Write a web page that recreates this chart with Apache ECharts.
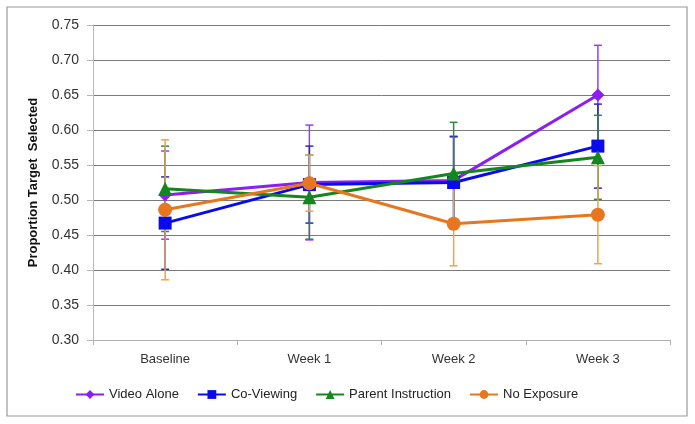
<!DOCTYPE html>
<html><head><meta charset="utf-8">
<script src="https://cdn.jsdelivr.net/npm/echarts@6/dist/echarts.min.js"></script>
<style>html,body{margin:0;padding:0;background:#fff}#c{width:695px;height:424px}</style>
</head><body><div id="c"></div>
<script>
const categories = ['Baseline', 'Week 1', 'Week 2', 'Week 3'];
const seriesNames = ['Video Alone', 'Co-Viewing', 'Parent Instruction', 'No Exposure'];
const videoAlone = [0.507, 0.525, 0.528, 0.650];
const videoAloneErr = [0.063, 0.082, 0.062, 0.071];
const coViewing = [0.467, 0.522, 0.525, 0.577];
const coViewingErr = [0.066, 0.055, 0.066, 0.060];
const parentInstruction = [0.516, 0.504, 0.538, 0.561];
const parentInstructionErr = [0.061, 0.060, 0.073, 0.060];
const noExposure = [0.486, 0.524, 0.466, 0.479];
const noExposureErr = [0.100, 0.040, 0.060, 0.070];
const yTicks = ['0.30','0.35','0.40','0.45','0.50','0.55','0.60','0.65','0.70','0.75'];

const colors = ['#8B1FF2', '#0A0AF0', '#14861E', '#E8761E'];
const errColors = ['#9B3BF5', '#2A2AB8', '#2E8B3A', '#F0A24A'];
const symbols = ['diamond', 'rect', 'triangle', 'circle'];
const symSizes = [13, 13, 14, 14];
const vals = [videoAlone, coViewing, parentInstruction, noExposure];
const errs = [videoAloneErr, coViewingErr, parentInstructionErr, noExposureErr];

const font = 'Liberation Sans, Arial, sans-serif';
const series = [];
vals.forEach((v, i) => {
  series.push({
    type: 'custom', name: seriesNames[i] + ' err', z: 2,
    data: v.map((y, k) => [k, y - errs[i][k], y + errs[i][k]]),
    renderItem: (params, api) => {
      const x = api.value(0);
      const lo = api.coord([x, api.value(1)]);
      const hi = api.coord([x, api.value(2)]);
      const w = 4;
      const st = { stroke: errColors[i], lineWidth: 1.5 };
      return { type: 'group', children: [
        { type: 'line', shape: { x1: lo[0], y1: lo[1], x2: hi[0], y2: hi[1] }, style: st },
        { type: 'line', shape: { x1: lo[0]-w, y1: lo[1], x2: lo[0]+w, y2: lo[1] }, style: st },
        { type: 'line', shape: { x1: hi[0]-w, y1: hi[1], x2: hi[0]+w, y2: hi[1] }, style: st }
      ]};
    },
    silent: true
  });
});
vals.forEach((v, i) => {
  series.push({
    type: 'line', name: seriesNames[i], data: v, z: 3 + i,
    symbol: symbols[i], symbolSize: symSizes[i],
    lineStyle: { color: colors[i], width: 3 },
    itemStyle: { color: colors[i] },
    animation: false
  });
});

const chart = echarts.init(document.getElementById('c'), null, { renderer: 'canvas' });
chart.setOption({
  animation: false,
  graphic: [{ type: 'rect', shape: { x: 7, y: 7, width: 680, height: 409 }, style: { fill: 'none', stroke: '#9a9a9a', lineWidth: 1.2 }, silent: true }],
  grid: { left: 93, right: 25, top: 25, bottom: 84 },
  legend: {
    data: seriesNames, bottom: 18, left: 70, itemWidth: 28, itemHeight: 11, itemGap: 18,
    textStyle: { fontFamily: font, fontSize: 13, color: '#222' }
  },
  xAxis: {
    type: 'category', data: categories, boundaryGap: true,
    axisLine: { lineStyle: { color: '#b0b0b0' } },
    axisTick: { show: true, length: 5, lineStyle: { color: '#b0b0b0' } },
    axisLabel: { fontFamily: font, fontSize: 13, color: '#333', margin: 13 }
  },
  yAxis: {
    type: 'value', min: 0.30, max: 0.75, interval: 0.05,
    name: 'Proportion Target  Selected', nameLocation: 'middle', nameGap: 53, nameRotate: 90,
    nameTextStyle: { fontFamily: font, fontSize: 13, fontWeight: 'bold', color: '#111' },
    axisLine: { show: true, lineStyle: { color: '#b8b8b8' } },
    axisTick: { show: true, length: 6, inside: false, lineStyle: { color: '#b8b8b8' } },
    axisLabel: { fontFamily: font, fontSize: 14, color: '#333', margin: 14, formatter: (val) => { const idx = Math.round((val - 0.30) / 0.05); return yTicks[idx]; } },
    splitLine: { lineStyle: { color: '#7a7a7a', width: 1 } }
  },
  series: series
});
</script></body></html>
